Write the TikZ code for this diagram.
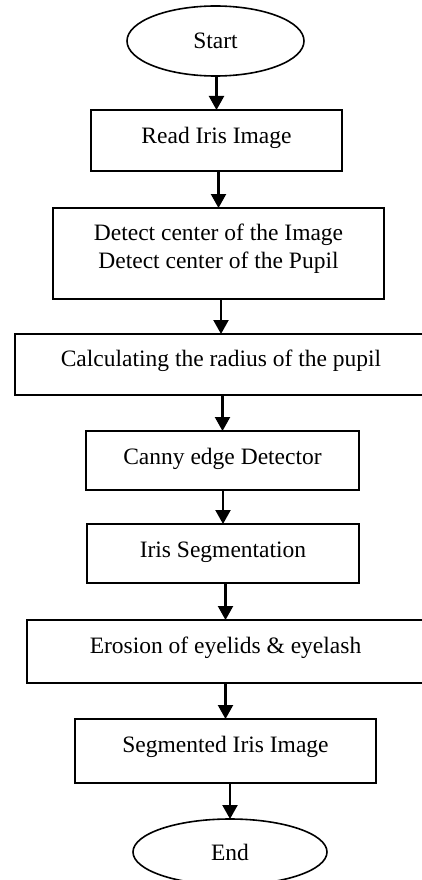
\documentclass[tikz,border=0pt]{standalone}
\usepackage{fontspec}
\setmainfont{Liberation Serif}
\usetikzlibrary{arrows.meta,shapes.geometric}
\begin{document}
\begin{tikzpicture}[x=1pt,y=-1pt,
  every node/.style={font=\fontsize{23.5}{28}\selectfont, inner sep=0pt, outer sep=0pt},
  stepbox/.style={draw, line width=1.6pt, rectangle, align=center},
  termnode/.style={draw, line width=1.6pt, ellipse},
  arr/.style={line width=2.2pt, -{Triangle[width=15pt,length=14pt]}}
]
\useasboundingbox (0,0) rectangle (421,880);
\node[termnode, minimum width=177pt, minimum height=70pt] (start) at (215.5,41) {Start};
\node[stepbox, minimum width=251pt, text height=33pt, text depth=28pt] (read) at (216.5,140.5) {Read Iris Image};
\node[stepbox, minimum width=331pt, text height=32pt, text depth=59pt] (detect) at (218.5,253.5)
  {\begin{tabular}[t]{@{}c@{}}Detect center of the Image\\ Detect center of the Pupil\end{tabular}};
\node[stepbox, minimum width=412pt, text height=32pt, text depth=29pt] (calc) at (221,364.5) {Calculating the radius of the pupil};
\node[stepbox, minimum width=273pt, text height=33pt, text depth=26pt] (canny) at (222.5,460.5) {Canny edge Detector};
\node[stepbox, minimum width=272pt, text height=33pt, text depth=26pt] (seg) at (223,553.5) {Iris Segmentation};
\node[stepbox, minimum width=397pt, text height=33pt, text depth=30pt] (eros) at (225.5,651.5) {Erosion of eyelids \& eyelash};
\node[stepbox, minimum width=301pt, text height=33pt, text depth=31pt] (segimg) at (225.5,751) {Segmented Iris Image};
\node[termnode, minimum width=194pt, minimum height=66pt] (end) at (230,852) {End};
\draw[arr] (read.north |- start.south) -- (read.north);
\draw[arr] (detect.north |- read.south) -- (detect.north);
\draw[arr] (calc.north |- detect.south) -- (calc.north);
\draw[arr] (canny.north |- calc.south) -- (canny.north);
\draw[arr] (seg.north |- canny.south) -- (seg.north);
\draw[arr] (eros.north |- seg.south) -- (eros.north);
\draw[arr] (segimg.north |- eros.south) -- (segimg.north);
\draw[arr] (end.north |- segimg.south) -- (end.north);
\end{tikzpicture}
\end{document}
